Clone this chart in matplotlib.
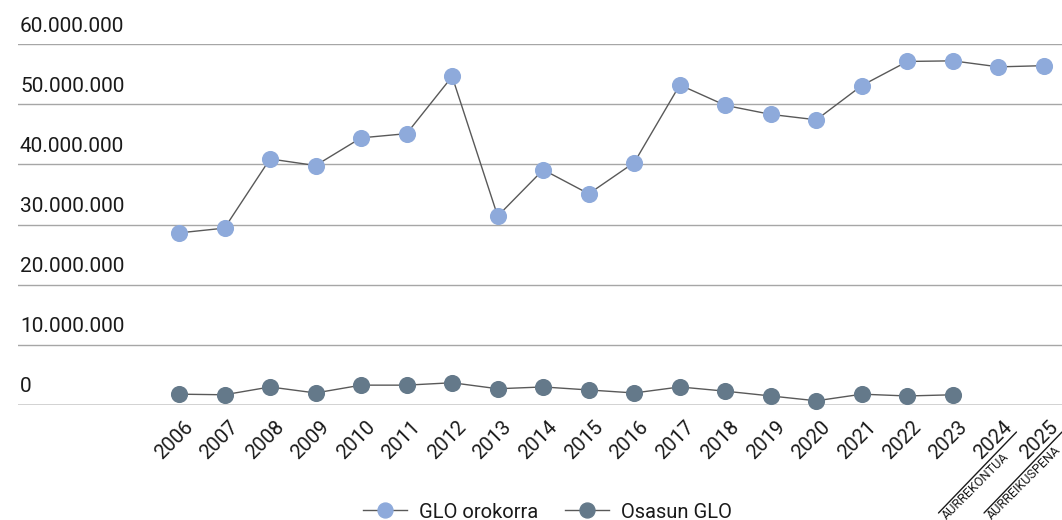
import matplotlib
matplotlib.use("Agg")
import matplotlib.pyplot as plt
from matplotlib.transforms import ScaledTranslation
from matplotlib.text import OffsetFrom

plt.rcParams['font.family'] = ['Roboto', 'DejaVu Sans']

years = ['2006', '2007', '2008', '2009', '2010', '2011', '2012', '2013', '2014',
         '2015', '2016', '2017', '2018', '2019', '2020', '2021', '2022', '2023',
         '2024', '2025']
sublabels = {'2024': 'AURREKONTUA', '2025': 'AURREIKUSPENA'}
glo_orokorra = [28.6, 29.4, 40.9, 39.8, 44.4, 45.1, 54.6, 31.4, 39.1, 35.1,
                40.3, 53.2, 49.8, 48.3, 47.4, 53.1, 57.1, 57.2, 56.2, 56.4]   # millions
osasun_glo = [1.8, 1.7, 3.0, 2.0, 3.3, 3.3, 3.7, 2.7, 3.0, 2.5,
              2.0, 3.0, 2.3, 1.5, 0.7, 1.8, 1.5, 1.7]                         # millions, to 2023
yticks = [0, 10e6, 20e6, 30e6, 40e6, 50e6, 60e6]
ytick_labels = ['0', '10.000.000', '20.000.000', '30.000.000', '40.000.000',
                '50.000.000', '60.000.000']

W, H = 1062, 520
fig = plt.figure(figsize=(W / 100, H / 100), dpi=100)
ax = fig.add_axes([18 / W, (H - 405) / H, 1 - 18 / W, 361 / H])

x1 = list(range(len(glo_orokorra)))
x2 = list(range(len(osasun_glo)))
l1, = ax.plot(x1, [v * 1e6 for v in glo_orokorra], color='#595959', lw=1,
              marker='o', ms=11.3, mfc='#8eaadb', mec='#8eaadb', clip_on=False,
              zorder=3, label='GLO orokorra')
l2, = ax.plot(x2, [v * 1e6 for v in osasun_glo], color='#595959', lw=1,
              marker='o', ms=11.3, mfc='#64798a', mec='#64798a', clip_on=False,
              zorder=3, label='Osasun GLO')

ax.set_xlim(-3.536, 19.395)
ax.set_ylim(0, 60e6)

for s in ax.spines.values():
    s.set_visible(False)

ax.set_yticks(yticks)
ax.set_yticklabels(ytick_labels)
ax.yaxis.grid(True, color='#a6a6a6', lw=1)
ax.axhline(0, color='#d0d0d0', lw=2, zorder=2)
ax.set_axisbelow(True)
ax.tick_params(axis='y', length=0, pad=0, labelsize=15, labelcolor='#1a1a1a')
for lab in ax.get_yticklabels():
    lab.set_ha('left')
    lab.set_va('baseline')
    lab.set_transform(lab.get_transform() +
                      ScaledTranslation(2 / 100, 12.5 / 100, fig.dpi_scale_trans))

ax.set_xticks(range(len(years)))
ax.set_xticklabels(years)
ax.tick_params(axis='x', length=0, pad=25, labelsize=14.5, labelcolor='#1a1a1a')
for lab in ax.get_xticklabels():
    lab.set_rotation(45)
    lab.set_rotation_mode('anchor')
    lab.set_ha('center')
    lab.set_va('center')
    lab.set_transform(lab.get_transform() +
                      ScaledTranslation(-5 / 100, 0, fig.dpi_scale_trans))

px = 72 / 100  # points per pixel
for i, yr in enumerate(years):
    if yr in sublabels:
        ref = OffsetFrom(ax.get_xaxis_transform(), (i, 0), unit='points')
        ax.annotate('', xy=(18 * px, -27 * px), xycoords=ref,
                    xytext=(-60 * px, -108 * px), textcoords=ref,
                    arrowprops=dict(arrowstyle='-', color='#1a1a1a', lw=1,
                                    shrinkA=0, shrinkB=0),
                    annotation_clip=False)
        ax.annotate(sublabels[yr], xy=(i, 0), xycoords=ax.get_xaxis_transform(),
                    xytext=(-52 * px, -114.5 * px), textcoords='offset points',
                    rotation=45, rotation_mode='anchor', ha='left', va='baseline',
                    fontsize=9.1, color='#1a1a1a', annotation_clip=False)

fig.legend(handles=[l1, l2], loc='center', bbox_to_anchor=(547.5 / W, 1 - 512 / H),
           ncol=2, frameon=False, fontsize=14.5, handlelength=2.15,
           handletextpad=0.6, columnspacing=1.35, markerscale=0.95,
           labelcolor='#1a1a1a')

fig.savefig('out.png', dpi=100)
